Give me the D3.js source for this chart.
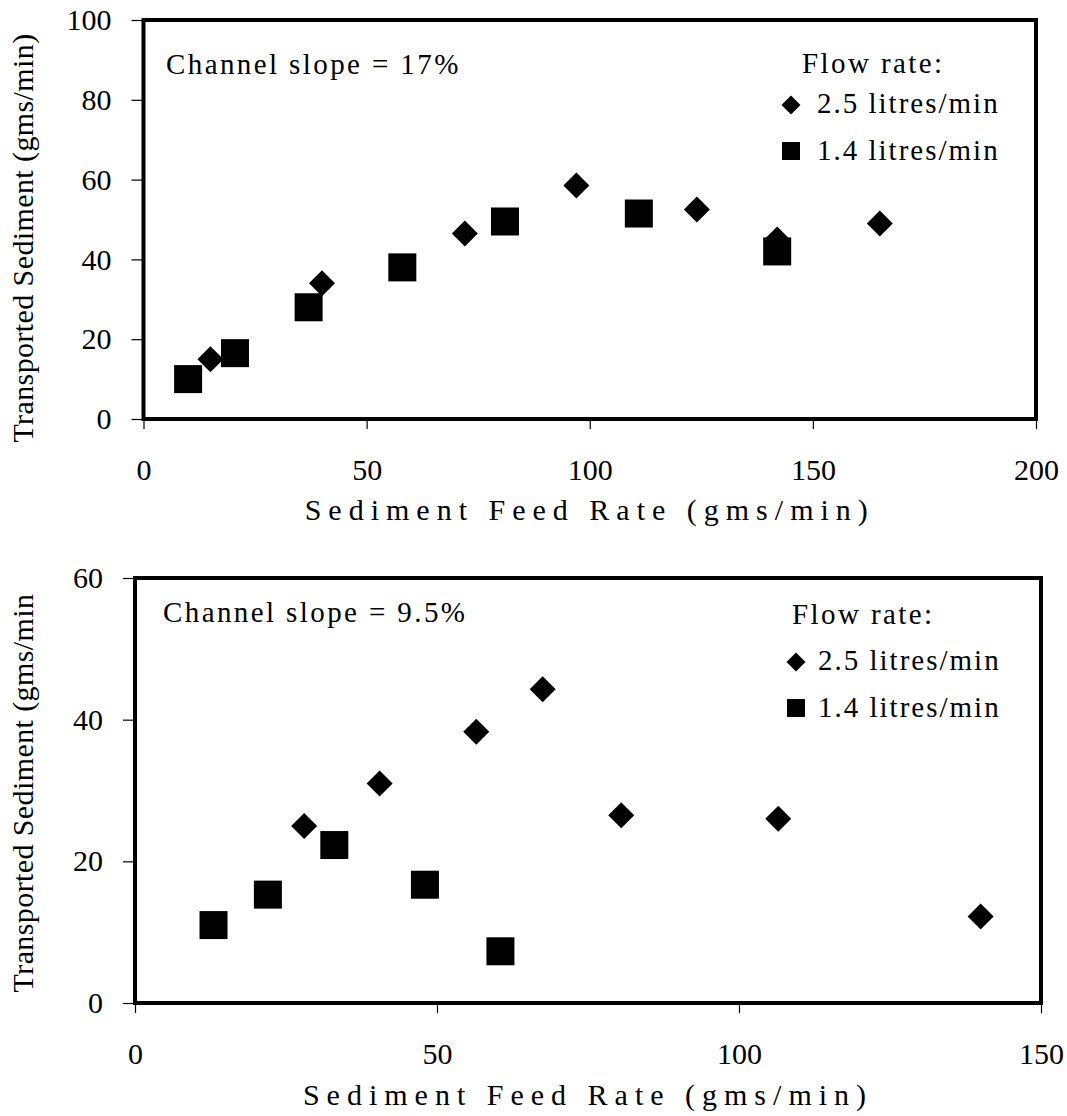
<!DOCTYPE html>
<html><head><meta charset="utf-8">
<script src="https://cdn.jsdelivr.net/npm/d3@7"></script>
<style>
body{margin:0;background:#fff;}
text{font-family:"Liberation Serif","Times New Roman",serif;fill:#000;}
</style></head>
<body><svg id="c" width="1067" height="1116"></svg>
<script>
// ---- data ----
const topDiamonds = [[15,15],[40,34],[72,46.5],[97,58.5],[124,52.5],[142,45],[165,49]];
const topSquares  = [[10,10],[20.5,16.5],[37,28],[58,38],[81,49.5],[111,51.5],[142,42]];
const botDiamonds = [[28,25],[40.5,31],[56.5,38.3],[67.5,44.3],[80.5,26.5],[106.5,26],[140,12.2]];
const botSquares  = [[13,11],[22,15.3],[33,22.3],[48,16.7],[60.5,7.3]];
const topXTicks = [0,50,100,150,200];
const topYTicks = [0,20,40,60,80,100];
const botXTicks = [0,50,100,150];
const botYTicks = [0,20,40,60];
const legendTitle = "Flow rate:";
const seriesNames = ["2.5 litres/min","1.4 litres/min"];

const svg = d3.select("#c");
const FS = "30px";

function diamondPath(r){ return `M0,${-r}L${r},0L0,${r}L${-r},0Z`; }

function panel(cfg){
  const g = svg.append("g");
  const x = d3.scaleLinear().domain(cfg.xDomain).range([cfg.left,cfg.right]);
  const y = d3.scaleLinear().domain(cfg.yDomain).range([cfg.bottom,cfg.top]);
  const ya = g.append("g").attr("transform",`translate(${cfg.left},0)`)
    .call(d3.axisLeft(y).tickValues(cfg.yTicks).tickSize(12).tickPadding(20).tickFormat(d3.format("d")));
  const xa = g.append("g").attr("transform",`translate(0,${cfg.bottom})`)
    .call(d3.axisBottom(x).tickValues(cfg.xTicks).tickSize(10).tickPadding(30).tickFormat(d3.format("d")));
  [ya,xa].forEach(a=>{
    a.select(".domain").remove();
    a.selectAll(".tick line").attr("stroke","#000").attr("stroke-width",1.2);
    a.selectAll(".tick text").style("font-size",FS).style("font-family","Liberation Serif").attr("fill","#000");
  });
  g.append("rect").attr("x",cfg.left).attr("y",cfg.top)
    .attr("width",cfg.right-cfg.left).attr("height",cfg.bottom-cfg.top)
    .attr("fill","none").attr("stroke","#000").attr("stroke-width",4);
  g.append("text").attr("x",(cfg.left+cfg.right)/2).attr("y",cfg.xTitleY)
    .attr("text-anchor","middle").style("font-size",FS).style("letter-spacing","7px")
    .text("Sediment Feed Rate (gms/min)");
  g.append("text").attr("transform",`translate(${cfg.yTitleX},${cfg.yTitleMid}) rotate(-90)`)
    .attr("text-anchor","middle").style("font-size",FS).style("letter-spacing","0.4px")
    .text(cfg.yTitle);
  g.append("text").attr("x",cfg.annX).attr("y",cfg.annY).style("font-size","29px").style("letter-spacing","2.4px")
    .text(cfg.ann);
  g.selectAll(".dia").data(cfg.diamonds).enter().append("path")
    .attr("d",diamondPath(13))
    .attr("transform",d=>`translate(${x(d[0])},${y(d[1])})`).attr("fill","#000");
  const s = 14;
  g.selectAll(".sq").data(cfg.squares).enter().append("rect")
    .attr("x",d=>x(d[0])-s).attr("y",d=>y(d[1])-s).attr("width",2*s).attr("height",2*s).attr("fill","#000");
  const L = cfg.legend;
  g.append("text").attr("x",L.titleX).attr("y",L.titleY).style("font-size","29px").style("letter-spacing","2.4px").text(legendTitle);
  g.append("path").attr("d",diamondPath(9.5))
    .attr("transform",`translate(${L.mx},${L.row1-8})`).attr("fill","#000");
  g.append("text").attr("x",L.tx).attr("y",L.row1).style("font-size","29px").style("letter-spacing","2px").text(seriesNames[0]);
  g.append("rect").attr("x",L.mx-9).attr("y",L.row2-18).attr("width",18).attr("height",18).attr("fill","#000");
  g.append("text").attr("x",L.tx).attr("y",L.row2).style("font-size","29px").style("letter-spacing","2px").text(seriesNames[1]);
}

panel({left:143.5,right:1036,top:20,bottom:419,xDomain:[0,200],yDomain:[0,100],
  xTicks:topXTicks,yTicks:topYTicks,xTitleY:520,yTitleX:33,yTitleMid:238,
  yTitle:"Transported Sediment (gms/min)",ann:"Channel slope = 17%",annX:166,annY:74,
  diamonds:topDiamonds,squares:topSquares,
  legend:{titleX:802,titleY:73,mx:791,tx:817,row1:113,row2:160}});
panel({left:135,right:1041,top:578,bottom:1003,xDomain:[0,150],yDomain:[0,60],
  xTicks:botXTicks,yTicks:botYTicks,xTitleY:1105,yTitleX:33,yTitleMid:793,
  yTitle:"Transported Sediment (gms/min",ann:"Channel slope = 9.5%",annX:163,annY:622,
  diamonds:botDiamonds,squares:botSquares,
  legend:{titleX:792,titleY:624,mx:796,tx:818,row1:670,row2:717}});
</script></body></html>
